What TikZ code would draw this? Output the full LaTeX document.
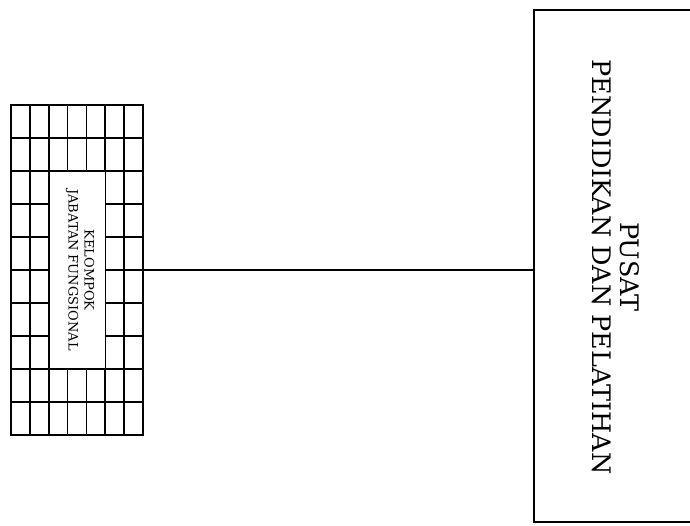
\documentclass[tikz,border=0pt]{standalone}
\usepackage{fontspec}
\setmainfont{DejaVu Serif}
\begin{document}
\begin{tikzpicture}[x=1pt,y=-1pt,
  gridline/.style={line width=1.6pt,black},
  boxline/.style={draw=black,line width=1.8pt},
  bigtext/.style={rotate=-90,align=center,font=\fontsize{25.5}{28}\selectfont},
  smalltext/.style={rotate=-90,align=center,font=\fontsize{13}{16}\selectfont}]
\useasboundingbox (0,0) rectangle (690,525);
\clip (0,0) rectangle (690,525);
% grid box
\node[boxline,minimum width=132pt,minimum height=330pt,inner sep=0pt] (kjf) at (77,270) {};
\foreach \i in {1,...,6} {
  \draw[gridline] (11+18.857*\i,105) -- (11+18.857*\i,435);
}
\foreach \j in {1,...,9} {
  \draw[gridline] (11,105+33*\j) -- (143,105+33*\j);
}
\node[fill=white,draw=black,line width=1.6pt,minimum width=56.6pt,minimum height=198pt,inner sep=0pt] (inner) at (77,270) {};
\node[smalltext] (kjft) at (80,270) {KELOMPOK\\JABATAN FUNGSIONAL};
% right box
\node[boxline,minimum width=170pt,minimum height=512pt,inner sep=0pt] (pusat) at (619,266) {};
\node[bigtext] (pusatt) at (616,267) {PUSAT\\PENDIDIKAN DAN PELATIHAN};
% connector
\draw[line width=1.3pt] (kjf.east) -- (kjf.east -| pusat.west);
\end{tikzpicture}
\end{document}
